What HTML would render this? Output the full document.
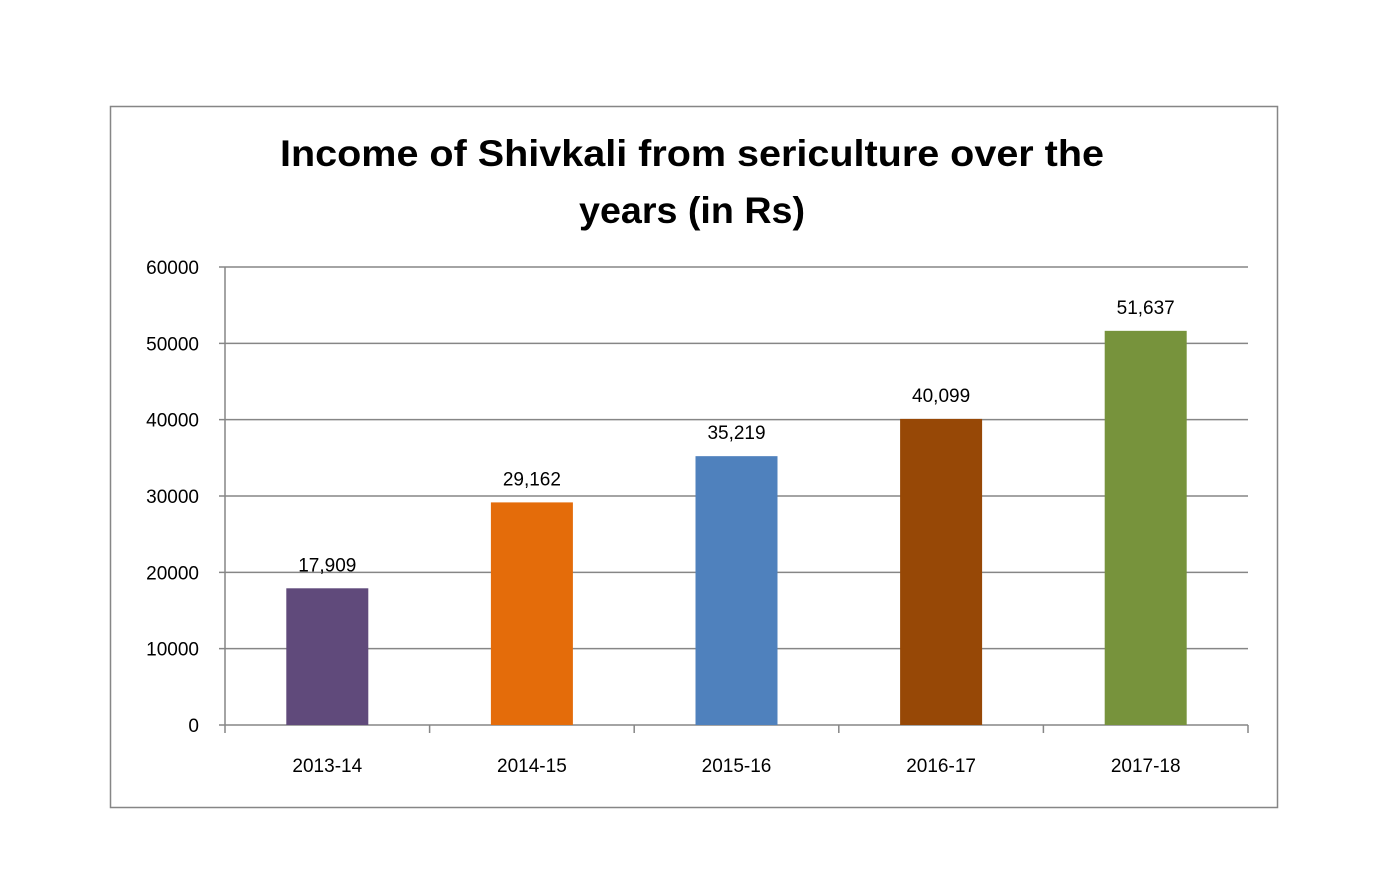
<!DOCTYPE html>
<html><head><meta charset="utf-8"><style>
html,body{margin:0;padding:0;background:#fff;}
svg{display:block;font-family:"Liberation Sans",sans-serif;}
</style></head><body>
<svg width="1400" height="888" viewBox="0 0 1400 888">
<rect x="0" y="0" width="1400" height="888" fill="#fff"/>
<rect x="110.5" y="106.5" width="1167" height="701" fill="#fff" stroke="#868686" stroke-width="1.5"/>
<text x="692" y="166" text-anchor="middle" font-size="37" font-weight="bold" fill="#000" textLength="824" lengthAdjust="spacingAndGlyphs">Income of Shivkali from sericulture over the</text>
<text x="692" y="223" text-anchor="middle" font-size="37" font-weight="bold" fill="#000" textLength="226" lengthAdjust="spacingAndGlyphs">years (in Rs)</text>
<g id="grid"></g><g id="bars"></g><g id="labels"></g>
</svg>
<script>
const categories = ["2013-14","2014-15","2015-16","2016-17","2017-18"];
const values = [17909,29162,35219,40099,51637];
const valueLabels = ["17,909","29,162","35,219","40,099","51,637"];
const colors = ["#604a7b","#e46c0a","#4f81bd","#974806","#77933c"];
const yTicks = [0,10000,20000,30000,40000,50000,60000];
const NS="http://www.w3.org/2000/svg";
const x0=225,x1=1248,yBase=725,yTop=267,yMax=60000;
const y=v=>yBase-(v/yMax)*(yBase-yTop);
const bw=(x1-x0)/categories.length;
const xc=i=>x0+bw*(i+0.5);
function mk(t,a,p){const e=document.createElementNS(NS,t);for(const k in a)e.setAttribute(k,a[k]);p.appendChild(e);return e;}
const grid=document.getElementById('grid'),bars=document.getElementById('bars'),labels=document.getElementById('labels');
yTicks.forEach(v=>{
  const l=mk('line',{x1:219,x2:x1,y1:y(v),y2:y(v),stroke:'#868686','stroke-width':1.5},grid);
  
  
  const t=mk('text',{x:199,y:y(v)+7,'text-anchor':'end','font-size':19,fill:'#000'},labels);
  t.textContent=v;
  
  
});
const ax=mk('line',{x1:x0,x2:x0,y1:yTop,y2:yBase,stroke:'#868686','stroke-width':1.5},grid);


for(let i=0;i<=categories.length;i++){
  const tk=mk('line',{x1:x0+bw*i,x2:x0+bw*i,y1:yBase,y2:yBase+8,stroke:'#868686','stroke-width':1.5},grid);
  
  
}
categories.forEach((c,i)=>{
  const w=82;
  const r=mk('rect',{x:xc(i)-w/2,y:y(values[i]),width:w,height:yBase-y(values[i]),fill:colors[i]},bars);
  
  
  const vl=mk('text',{x:xc(i),y:y(values[i])-17,'text-anchor':'middle','font-size':19,fill:'#000'},labels);
  vl.textContent=valueLabels[i];
  
  
  const cl=mk('text',{x:xc(i),y:772,'text-anchor':'middle','font-size':19,fill:'#000'},labels);
  cl.textContent=c;
  
  
});
</script>
</body></html>
